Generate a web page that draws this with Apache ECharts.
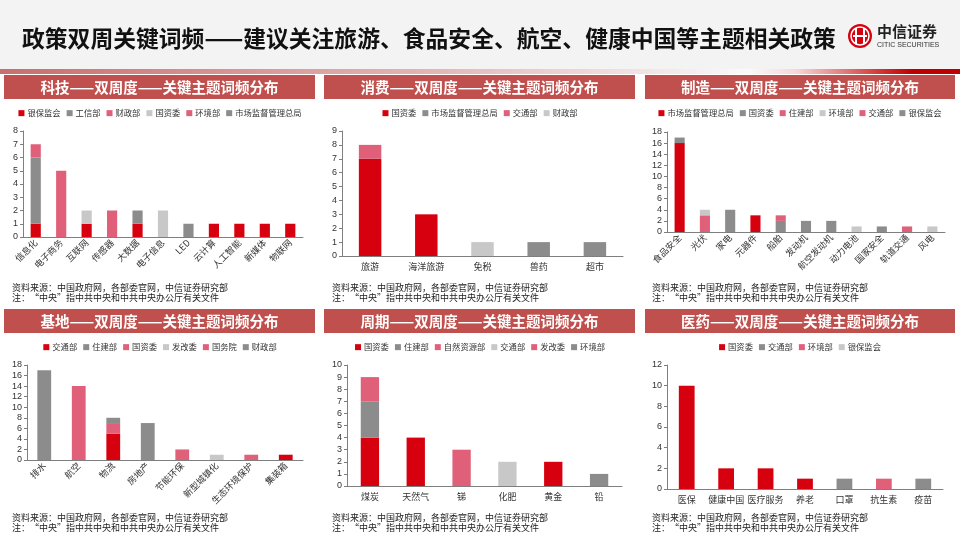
<!DOCTYPE html>
<html><head><meta charset="utf-8">
<script src="https://cdn.jsdelivr.net/npm/echarts@6/dist/echarts.min.js"></script>
<style>
html,body{margin:0;padding:0;background:#fff;width:960px;height:540px;overflow:hidden;}
.p{position:absolute;}
</style></head><body>
<div id="hdr" class="p" style="left:0;top:0;width:960px;height:75px;"></div>
<div id="p1" class="p" style="left:0;top:72px;width:320px;height:230px;"></div>
<div id="p2" class="p" style="left:320px;top:72px;width:320px;height:230px;"></div>
<div id="p3" class="p" style="left:640px;top:72px;width:320px;height:230px;"></div>
<div id="p4" class="p" style="left:0;top:305px;width:320px;height:235px;"></div>
<div id="p5" class="p" style="left:320px;top:305px;width:320px;height:235px;"></div>
<div id="p6" class="p" style="left:640px;top:305px;width:320px;height:235px;"></div>
<script>
// ---------- data ----------
const pageTitle = '政策双周关键词频——建议关注旅游、食品安全、航空、健康中国等主题相关政策';
const sourceLine = '资料来源：中国政府网，各部委官网，中信证券研究部';
const noteLine = '注：“中央”指中共中央和中共中央办公厅有关文件';

// 科技
const techTitle = '科技——双周度——关键主题词频分布';
const techCats = ['信息化','电子商务','互联网','传感器','大数据','电子信息','LED','云计算','人工智能','新媒体','物联网'];
const techNames = ['银保监会','工信部','财政部','国资委','环境部','市场监督管理总局'];
const techYinbao = [1,0,1,0,1,0,0,1,1,1,1];
const techGongxin = [5,0,0,0,1,0,0,0,0,0,0];
const techCaizheng = [1,0,0,2,0,0,0,0,0,0,0];
const techGuozi = [0,0,1,0,0,2,0,0,0,0,0];
const techHuanjing = [0,5,0,0,0,0,0,0,0,0,0];
const techShichang = [0,0,0,0,0,0,1,0,0,0,0];

// 消费
const consTitle = '消费——双周度——关键主题词频分布';
const consCats = ['旅游','海洋旅游','免税','兽药','超市'];
const consNames = ['国资委','市场监督管理总局','交通部','财政部'];
const consGuozi = [7,3,0,0,0];
const consShichang = [0,0,0,1,1];
const consJiaotong = [1,0,0,0,0];
const consCaizheng = [0,0,1,0,0];

// 制造
const mfgTitle = '制造——双周度——关键主题词频分布';
const mfgCats = ['食品安全','光伏','家电','元器件','船舶','发动机','航空发动机','动力电池','国家安全','轨道交通','风电'];
const mfgNames = ['市场监督管理总局','国资委','住建部','环境部','交通部','银保监会'];
const mfgShichang = [16,0,0,3,0,0,0,0,0,0,0];
const mfgGuozi = [1,0,4,0,2,2,2,0,0,0,0];
const mfgZhujian = [0,3,0,0,1,0,0,0,0,0,0];
const mfgHuanjing = [0,1,0,0,0,0,0,1,0,0,1];
const mfgJiaotong = [0,0,0,0,0,0,0,0,0,1,0];
const mfgYinbao = [0,0,0,0,0,0,0,0,1,0,0];

// 基地
const baseTitle = '基地——双周度——关键主题词频分布';
const baseCats = ['排水','航空','物流','房地产','节能环保','新型城镇化','生态环境保护','集装箱'];
const baseNames = ['交通部','住建部','国资委','发改委','国务院','财政部'];
const baseJiaotong = [0,0,5,0,0,0,0,1];
const baseZhujian = [17,0,0,7,0,0,0,0];
const baseGuozi = [0,14,2,0,0,0,0,0];
const baseFagai = [0,0,0,0,0,1,0,0];
const baseGuowu = [0,0,0,0,2,0,1,0];
const baseCaizheng = [0,0,1,0,0,0,0,0];

// 周期
const cycTitle = '周期——双周度——关键主题词频分布';
const cycCats = ['煤炭','天然气','锑','化肥','黄金','铅'];
const cycNames = ['国资委','住建部','自然资源部','交通部','发改委','环境部'];
const cycGuozi = [4,4,0,0,2,0];
const cycZhujian = [3,0,0,0,0,0];
const cycZiran = [2,0,3,0,0,0];
const cycJiaotong = [0,0,0,2,0,0];
const cycFagai = [0,0,0,0,0,0];
const cycHuanjing = [0,0,0,0,0,1];

// 医药
const medTitle = '医药——双周度——关键主题词频分布';
const medCats = ['医保','健康中国','医疗服务','养老','口罩','抗生素','疫苗'];
const medNames = ['国资委','交通部','环境部','银保监会'];
const medGuozi = [10,2,2,1,0,0,0];
const medJiaotong = [0,0,0,0,1,0,1];
const medHuanjing = [0,0,0,0,0,1,0];
const medYinbao = [0,0,0,0,0,0,0];

// ---------- styling ----------
const palette = ['#D7000F','#8C8C8C','#E0607A','#C8C8C8','#E0607A','#8C8C8C'];
const FF = '"Liberation Sans","Noto Sans CJK SC",sans-serif';
const CJK = '"Noto Sans CJK SC","Liberation Sans",sans-serif';

function panel(id, o) {
  const chart = echarts.init(document.getElementById(id), null, {renderer:'canvas'});
  const series = o.names.map((n, i) => ({
    name: n, type: 'bar', stack: 'total', data: o.values[i],
    barWidth: '40%', itemStyle: {color: palette[i]}, emphasis: {disabled: true}
  }));
  chart.setOption({
    animation: false,
    textStyle: {fontFamily: FF},
    graphic: [
      {type:'rect', shape:{x:o.bar[0], y:o.bar[1], width:o.bar[2], height:o.bar[3]}, style:{fill:'#C0504D'}, silent:true},
      {type:'text', x:o.bar[0]+o.bar[2]/2, y:o.bar[1]+o.bar[3]/2, silent:true,
        style:{text:o.title, fill:'#fff', fontSize:14.5, fontWeight:'bold', fontFamily:CJK, align:'center', verticalAlign:'middle'}},
      {type:'text', x:12, y:o.src, silent:true,
        style:{text:sourceLine, fill:'#222', fontSize:9, fontFamily:CJK, verticalAlign:'middle'}},
      {type:'text', x:12, y:o.src+10, silent:true,
        style:{text:noteLine, fill:'#222', fontSize:9, fontFamily:CJK, verticalAlign:'middle'}}
    ],
    legend: {
      top: o.legendTop, left: 'center', itemWidth: 6, itemHeight: 6, itemGap: 6, icon: 'rect',
      padding: 0, width: 316,
      textStyle: {fontSize: 8.3, color: '#333', fontFamily: CJK, padding:[0,0,0,-2]},
      data: o.names
    },
    grid: o.grid,
    xAxis: {
      type: 'category', data: o.cats,
      axisLine: {lineStyle: {color: '#7f7f7f'}},
      axisTick: {show: false},
      axisLabel: {interval: 0, rotate: o.rotate, fontSize: 9, color: '#333', margin: o.rotate ? 4 : 6, fontFamily: CJK}
    },
    yAxis: {
      type: 'value', min: 0, max: o.max, interval: o.step,
      axisLine: {show: true, lineStyle: {color: '#7f7f7f'}},
      axisTick: {show: true, length: 3, lineStyle: {color: '#7f7f7f'}},
      splitLine: {show: false},
      axisLabel: {fontSize: 9, color: '#333', margin: 5}
    },
    series: series
  });
}

panel('p1', {title: techTitle, cats: techCats, names: techNames,
  values: [techYinbao, techGongxin, techCaizheng, techGuozi, techHuanjing, techShichang],
  max: 8, step: 1, rotate: 45, bar: [4,3,311,24], legendTop: 37, src: 216,
  grid: {left: 23, right: 17, top: 59, bottom: 65}});
panel('p2', {title: consTitle, cats: consCats, names: consNames,
  values: [consGuozi, consShichang, consJiaotong, consCaizheng],
  max: 9, step: 1, rotate: 0, bar: [4,3,311,24], legendTop: 37, src: 216,
  grid: {left: 22, right: 17, top: 59, bottom: 46}});
panel('p3', {title: mfgTitle, cats: mfgCats, names: mfgNames,
  values: [mfgShichang, mfgGuozi, mfgZhujian, mfgHuanjing, mfgJiaotong, mfgYinbao],
  max: 18, step: 2, rotate: 45, bar: [5,3,310,24], legendTop: 37, src: 216,
  grid: {left: 27, right: 15, top: 60, bottom: 70}});
panel('p4', {title: baseTitle, cats: baseCats, names: baseNames,
  values: [baseJiaotong, baseZhujian, baseGuozi, baseFagai, baseGuowu, baseCaizheng],
  max: 18, step: 2, rotate: 45, bar: [4,4,311,24], legendTop: 38, src: 213,
  grid: {left: 27, right: 17, top: 60, bottom: 80}});
panel('p5', {title: cycTitle, cats: cycCats, names: cycNames,
  values: [cycGuozi, cycZhujian, cycZiran, cycJiaotong, cycFagai, cycHuanjing],
  max: 10, step: 1, rotate: 0, bar: [4,4,311,24], legendTop: 38, src: 213,
  grid: {left: 27, right: 18, top: 60, bottom: 54}});
panel('p6', {title: medTitle, cats: medCats, names: medNames,
  values: [medGuozi, medJiaotong, medHuanjing, medYinbao],
  max: 12, step: 2, rotate: 0, bar: [5,4,310,24], legendTop: 38, src: 213,
  grid: {left: 27, right: 17, top: 60, bottom: 51}});

// header
const hdr = echarts.init(document.getElementById('hdr'));
hdr.setOption({
  animation: false,
  graphic: [
    {type:'rect', shape:{x:0,y:0,width:960,height:69}, style:{fill:'#F3F3F3'}, silent:true},
    {type:'rect', shape:{x:0,y:69,width:960,height:5}, silent:true,
      style:{fill:new echarts.graphic.LinearGradient(0,0,1,0,[
        {offset:0,color:'#C86E6E'},{offset:0.45,color:'#E3B5B5'},{offset:0.78,color:'#FAFAFA'},
        {offset:0.83,color:'#F6D6D6'},{offset:0.92,color:'#D03030'},{offset:0.95,color:'#C00000'},{offset:1,color:'#C00000'}])}},
    {type:'text', x:22, y:38, silent:true,
      style:{text:pageTitle, fill:'#111', fontSize:22.8, fontWeight:'bold', fontFamily:CJK, verticalAlign:'middle'}},
    {type:'circle', shape:{cx:860,cy:36,r:12}, style:{fill:'#D7000F'}, silent:true},
    {type:'circle', shape:{cx:860,cy:36,r:9}, style:{fill:'none', stroke:'#fff', lineWidth:1.5}, silent:true},
    {type:'rect', shape:{x:855,y:28,width:2,height:16}, style:{fill:'#fff'}, silent:true},
    {type:'rect', shape:{x:863,y:28,width:2,height:16}, style:{fill:'#fff'}, silent:true},
    {type:'rect', shape:{x:853,y:35,width:14,height:2}, style:{fill:'#fff'}, silent:true},
    {type:'text', x:877, y:31, silent:true,
      style:{text:'中信证券', fill:'#222', fontSize:15, fontWeight:'bold', fontFamily:CJK, verticalAlign:'middle'}},
    {type:'text', x:877, y:45, silent:true,
      style:{text:'CITIC SECURITIES', fill:'#333', fontSize:7, fontFamily:FF, verticalAlign:'middle'}}
  ]
});
</script>
</body></html>
